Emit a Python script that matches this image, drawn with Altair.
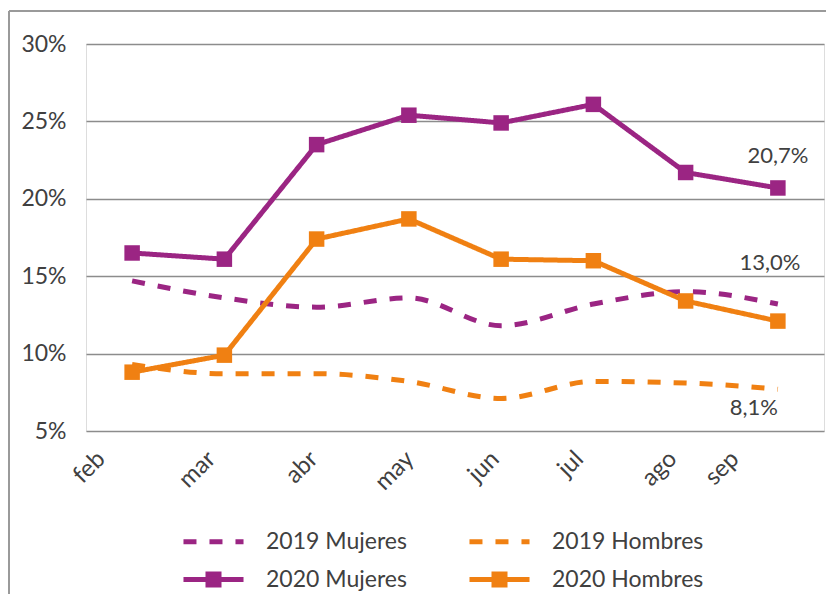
import altair as alt
import pandas as pd

months = ["feb", "mar", "abr", "may", "jun", "jul", "ago", "sep"]
mujeres_2019 = [14.7, 13.6, 13.0, 13.6, 11.8, 13.2, 14.0, 13.2]
hombres_2019 = [9.3, 8.7, 8.7, 8.2, 7.1, 8.2, 8.1, 7.7]
mujeres_2020 = [16.5, 16.1, 23.5, 25.4, 24.9, 26.1, 21.7, 20.7]
hombres_2020 = [8.8, 9.9, 17.4, 18.7, 16.1, 16.0, 13.4, 12.1]

series_names = ["2019 Mujeres", "2019 Hombres", "2020 Mujeres", "2020 Hombres"]
series_values = [mujeres_2019, hombres_2019, mujeres_2020, hombres_2020]
# legend order (column-wise fill): col 1 = Mujeres, col 2 = Hombres
legend_order = ["2019 Mujeres", "2020 Mujeres", "2019 Hombres", "2020 Hombres"]
legend_colors = ["#9B2583", "#9B2583", "#F08012", "#F08012"]
legend_dashes = [[13, 13], [1, 0], [13, 13], [1, 0]]
smooth_series = ["2019 Mujeres", "2019 Hombres"]
marker_series = ["2020 Mujeres", "2020 Hombres"]
y_ticks = [5, 10, 15, 20, 25, 30]

label_series = ["2020 Mujeres", "2019 Mujeres", "2019 Hombres"]
label_texts = ["20,7%", "13,0%", "8,1%"]

rows = []
for name, vals in zip(series_names, series_values):
    for m, v in zip(months, vals):
        rows.append({"mes": m, "valor": v, "serie": name})
df = pd.DataFrame(rows)

lab_rows = []
for s, t in zip(label_series, label_texts):
    v = series_values[series_names.index(s)][-1]
    lab_rows.append({"mes": months[-1], "valor": v, "serie": s, "texto": t})
labels_df = pd.DataFrame(lab_rows)

W, H = 738, 387
FONT = "Lato"
TXT = "#404040"

# horizontal shift of each rotated month label (style, as in the original)
x_label_shift = [-31, -13, -3, 1, -6, -14, -13, -43]
shift_expr = "[%s][indexof([%s], datum.value)]" % (
    ",".join(str(v) for v in x_label_shift), ",".join("'%s'" % m for m in months))

x_enc = alt.X(
    "mes:N", sort=months, scale=alt.Scale(type="point", padding=0.5),
    axis=alt.Axis(title=None, labelAngle=-45, labelAlign="right", labelBaseline="middle",
                  labelFontSize=24, labelColor=TXT, labelFont=FONT, labelPadding=24,
                  labelOffset={"condition": {"test": "false", "value": 0}, "expr": shift_expr},
                  domain=False, ticks=False, grid=False),
)
y_enc = alt.Y(
    "valor:Q", scale=alt.Scale(domain=[5, 30], nice=False, zero=False),
    axis=alt.Axis(title=None, values=y_ticks, labelExpr="datum.value + '%'",
                  labelFontSize=23, labelColor=TXT, labelFont=FONT, labelPadding=20,
                  domain=False, ticks=False, grid=True, gridColor="#8C8C8C", gridWidth=1.6),
)

marker_list = "[" + ",".join("'%s'" % s for s in marker_series) + "]"
sym_expr = ("indexof(%s, datum.value) >= 0 ? "
            "'M-1.58,0H1.58M-0.29,-0.29H0.29V0.29H-0.29Z' : 'M-1.58,0H1.58'") % marker_list
legend = alt.Legend(
    title=None, orient="none", legendX=106, legendY=476, columns=2,
    symbolType={"expr": sym_expr}, symbolSize=1444, symbolStrokeWidth=5,
    symbolFillColor={"expr": "scale('color', datum.value)"},
    labelFontSize=23, labelColor=TXT, labelFont=FONT, labelOffset=31,
    columnPadding=52, rowPadding=4, labelLimit=0,
)
color_scale = alt.Scale(domain=legend_order, range=legend_colors)
color_enc = alt.Color("serie:N", scale=color_scale, legend=legend)
dash_enc = alt.StrokeDash("serie:N",
                          scale=alt.Scale(domain=legend_order, range=legend_dashes),
                          legend=legend)

base = alt.Chart(df)

lines_2019 = base.transform_filter(
    alt.FieldOneOfPredicate(field="serie", oneOf=smooth_series)
).mark_line(strokeWidth=5, interpolate="monotone", strokeCap="butt").encode(
    x=x_enc, y=y_enc, color=color_enc, strokeDash=dash_enc)

lines_2020 = base.transform_filter(
    alt.FieldOneOfPredicate(field="serie", oneOf=marker_series)
).mark_line(strokeWidth=5, strokeCap="butt").encode(
    x=x_enc, y=y_enc, color=color_enc, strokeDash=dash_enc)

points_2020 = base.transform_filter(
    alt.FieldOneOfPredicate(field="serie", oneOf=marker_series)
).mark_point(shape="square", filled=True, size=240, opacity=1).encode(
    x=x_enc, y=y_enc,
    color=alt.Color("serie:N", scale=color_scale, legend=None))

label_offsets = [(0, -32), (-8, -41), (-24, 19)]
text_layers = []
for s, (dx, dy) in zip(label_series, label_offsets):
    text_layers.append(
        alt.Chart(labels_df).transform_filter(alt.datum.serie == s).mark_text(
            fontSize=22, color=TXT, font=FONT, dx=dx, dy=dy
        ).encode(x=alt.X("mes:N", sort=months), y=alt.Y("valor:Q"), text="texto:N")
    )

frame_top = alt.Chart(df).mark_rule(color="#9A9A9A", strokeWidth=1.5).encode(
    x=alt.value(-77), x2=alt.value(W + 2), y=alt.value(-33))
frame_left = alt.Chart(df).mark_rule(color="#9A9A9A", strokeWidth=1.5).encode(
    x=alt.value(-77), y=alt.value(-33), y2=alt.value(H + 163))

chart = alt.layer(
    frame_top, frame_left, lines_2019, lines_2020, points_2020, *text_layers
).properties(
    width=W, height=H, padding={"left": 0, "top": 2, "right": 0, "bottom": 0}
).configure_view(stroke=None).configure(font=FONT)

chart.save("out.html", embed_options={"renderer": "svg", "actions": False})
